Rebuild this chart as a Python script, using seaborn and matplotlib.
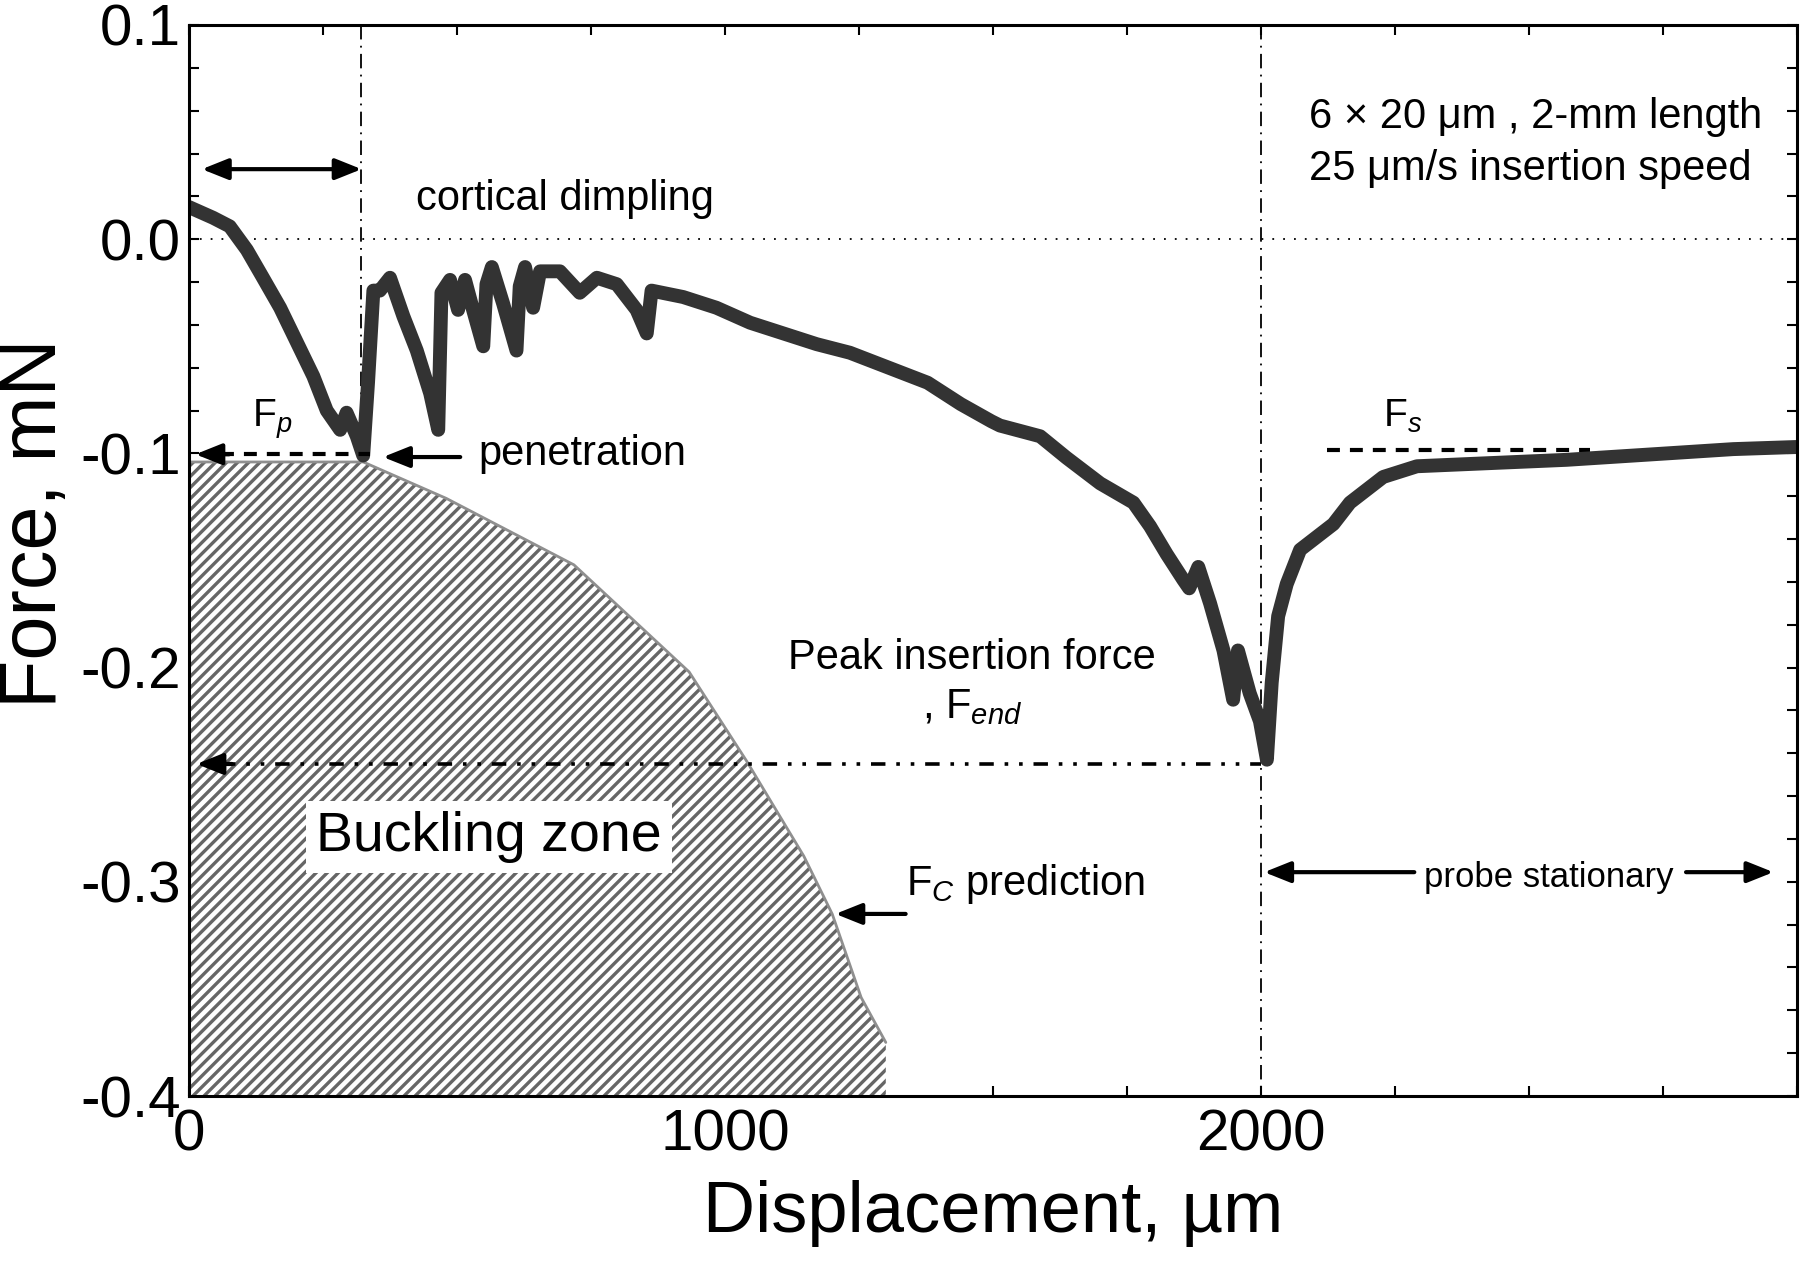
import matplotlib
matplotlib.use("Agg")
import matplotlib.pyplot as plt
import seaborn as sns
import pandas as pd

# ---------------- data ----------------
displacement = [0, 45, 76, 108, 138, 170, 201, 232, 257, 282, 294, 313, 325, 334, 344, 356,
                375, 400, 425, 450, 465, 471, 487, 502, 515, 530, 549, 555, 565, 586, 611,
                617, 627, 642, 655, 692, 729, 761, 798, 835, 854, 863, 922, 984, 1047, 1109,
                1171, 1233, 1378, 1440, 1497, 1513, 1588, 1637, 1700, 1762, 1793, 1824, 1855,
                1866, 1883, 1905, 1930, 1948, 1957, 1979, 1998, 2011, 2020, 2032, 2048, 2073,
                2135, 2166, 2228, 2291, 2384, 2570, 2757, 2881, 3000]
force = [0.015, 0.010, 0.006, -0.005, -0.018, -0.032, -0.048, -0.064, -0.080, -0.089, -0.081,
         -0.092, -0.101, -0.067, -0.024, -0.024, -0.018, -0.036, -0.052, -0.072, -0.089,
         -0.025, -0.019, -0.033, -0.019, -0.033, -0.050, -0.021, -0.013, -0.030, -0.052,
         -0.022, -0.013, -0.032, -0.015, -0.015, -0.025, -0.018, -0.021, -0.033, -0.044,
         -0.024, -0.027, -0.032, -0.039, -0.044, -0.049, -0.053, -0.067, -0.077, -0.085,
         -0.087, -0.092, -0.102, -0.114, -0.123, -0.134, -0.147, -0.159, -0.163, -0.153,
         -0.170, -0.192, -0.215, -0.192, -0.212, -0.225, -0.243, -0.207, -0.176, -0.161,
         -0.145, -0.133, -0.123, -0.111, -0.106, -0.105, -0.103, -0.100, -0.098, -0.097]

# buckling (F_C prediction) boundary
buckle_x = [0, 325, 480, 718, 933, 1040, 1147, 1200, 1254, 1300]
buckle_y = [-0.104, -0.104, -0.121, -0.152, -0.202, -0.2435, -0.288, -0.315, -0.354, -0.375]

x_major = [0, 1000, 2000]
x_tick_labels = ["0", "1000", "2000"]
y_major = [0.1, 0.0, -0.1, -0.2, -0.3, -0.4]
y_tick_labels = ["0.1", "0.0", "-0.1", "-0.2", "-0.3", "-0.4"]

# annotation values
pen_x, f_p = 320, -0.1004
end_x, f_end = 2000, -0.245
f_s = -0.0985
dimple_y = 0.0327
stat_y = -0.2955
fc_arrow = (1206, -0.315)

# ---------------- style ----------------
sns.set_theme(style="ticks")
plt.rcParams["font.family"] = ["Liberation Sans", "DejaVu Sans"]
plt.rcParams["mathtext.fontset"] = "custom"
plt.rcParams["mathtext.rm"] = "Liberation Sans"
plt.rcParams["mathtext.it"] = "Liberation Sans:italic"
plt.rcParams["hatch.linewidth"] = 2.4
plt.rcParams["axes.unicode_minus"] = False
for k in ["text.color", "axes.labelcolor", "xtick.color", "ytick.color",
          "xtick.labelcolor", "ytick.labelcolor", "axes.edgecolor"]:
    plt.rcParams[k] = "black"

fig = plt.figure(figsize=(18, 12.63), dpi=100)
ax = fig.add_axes([189 / 1800, 1 - 1096 / 1263, (1797 - 189) / 1800, (1096 - 25) / 1263])

# hatched buckling zone
ax.fill_between(buckle_x, buckle_y, -0.4, facecolor="white", edgecolor="#666666",
                hatch="///", linewidth=0, zorder=1)
ax.plot(buckle_x, buckle_y, color="#8f8f8f", lw=2, zorder=2)

# reference lines
ax.plot([0, 3000], [0, 0], color="black", lw=1.3, ls=(0, (1, 5)), zorder=2)
ax.plot([pen_x, pen_x], [0.1, f_p], color="black", lw=1.3, ls=(0, (8, 3.5, 1, 3.5)), zorder=2)
ax.plot([end_x, end_x], [0.1, -0.4], color="black", lw=1.3, ls=(0, (8, 3.5, 1, 3.5)), zorder=2)

# data curve
df = pd.DataFrame({"Displacement": displacement, "Force": force})
sns.lineplot(data=df, x="Displacement", y="Force", ax=ax, color="#333333", linewidth=10,
             estimator=None, sort=False, zorder=4)

arrow_kw = dict(arrowstyle="-|>,head_length=0.8,head_width=0.32", mutation_scale=20,
                color="black", lw=3, shrinkA=0, shrinkB=0)
darrow_kw = dict(arrowstyle="<|-|>,head_length=0.8,head_width=0.32", mutation_scale=20,
                 color="black", lw=3, shrinkA=0, shrinkB=0)

# cortical dimpling
ax.annotate("", xy=(322, dimple_y), xytext=(24, dimple_y), arrowprops=darrow_kw, zorder=5)
ax.text(423, 0.0136, "cortical dimpling", fontsize=30, ha="left", va="baseline")

# F_p dashed arrow
ax.plot([60, 338], [f_p, f_p], color="black", lw=3, ls=(0, (3.1, 2.4)), zorder=5)
ax.annotate("", xy=(12, f_p), xytext=(75, f_p), arrowprops=arrow_kw, zorder=5)
ax.text(117, -0.0876, r"F$_{\mathit{p}}$", fontsize=28, ha="left", va="baseline")

# penetration
ax.annotate("", xy=(362, -0.1017), xytext=(506, -0.1017), arrowprops=arrow_kw, zorder=5)
ax.text(539, -0.1055, "penetration", fontsize=30, ha="left", va="baseline")

# F_s
ax.plot([2123, 2614], [f_s, f_s], color="black", lw=3, ls=(0, (3.1, 2.4)), zorder=3)
ax.text(2228, -0.0876, r"F$_{\mathit{s}}$", fontsize=28, ha="left", va="baseline")

# top right info
ax.text(2090, 0.0519, "6 × 20 μm , 2-mm length", fontsize=30, ha="left", va="baseline")
ax.text(2090, 0.0276, "25 μm/s insertion speed", fontsize=30, ha="left", va="baseline")

# peak insertion force
ax.text(1460, -0.2006, "Peak insertion force", fontsize=30, ha="center", va="baseline")
ax.text(1462, -0.2236, r", F$_{\mathit{end}}$", fontsize=30, ha="center", va="baseline")
ax.plot([60, end_x], [f_end, f_end], color="black", lw=2.6,
        ls=(0, (4, 3, 1, 3, 1, 3)), zorder=5)
ax.annotate("", xy=(14, f_end), xytext=(80, f_end), arrowprops=arrow_kw, zorder=5)

# F_C prediction
ax.annotate("", xy=fc_arrow, xytext=(1337, fc_arrow[1]), arrowprops=arrow_kw, zorder=5)
ax.text(1337, -0.306, r"F$_{\mathit{C}}$ prediction", fontsize=30, ha="left", va="baseline")

# probe stationary
ax.annotate("", xy=(2006, stat_y), xytext=(2286, stat_y), arrowprops=arrow_kw, zorder=5)
ax.annotate("", xy=(2956, stat_y), xytext=(2793, stat_y), arrowprops=arrow_kw, zorder=5)
ax.text(2537, -0.3025, "probe stationary", fontsize=25, ha="center", va="baseline")

# buckling zone label
ax.text(560, -0.2856, "Buckling zone", fontsize=40, ha="center", va="baseline", zorder=6,
        bbox=dict(boxstyle="square,pad=0.18", fc="white", ec="none"))

# axes
ax.set_xlim(0, 3000)
ax.set_ylim(-0.4, 0.1)
ax.set_xticks(x_major)
ax.set_xticklabels(x_tick_labels)
ax.set_xticks(range(0, 3001, 250), minor=True)
ax.set_yticks(y_major)
ax.set_yticklabels(y_tick_labels)
ax.set_yticks([round(-0.4 + 0.02 * i, 2) for i in range(26)], minor=True)
ax.tick_params(which="both", direction="in", top=True, right=True, length=7, width=1.5,
               color="black", labelcolor="black")
ax.tick_params(axis="x", which="major", labelsize=42, pad=9)
ax.tick_params(axis="y", which="major", labelsize=42, pad=6)
for s in ax.spines.values():
    s.set_linewidth(2.2)
    s.set_color("black")
    s.set_zorder(10)

ax.set_xlabel("Displacement, µm", fontsize=52, color="black")
ax.set_ylabel("Force, mN", fontsize=57, color="black")
ax.xaxis.set_label_coords(0.5, -0.0784)
ax.yaxis.set_label_coords(-0.072, 0.5345)
ax.set_facecolor("white")
fig.patch.set_facecolor("white")

fig.savefig("out.png", dpi=100)
